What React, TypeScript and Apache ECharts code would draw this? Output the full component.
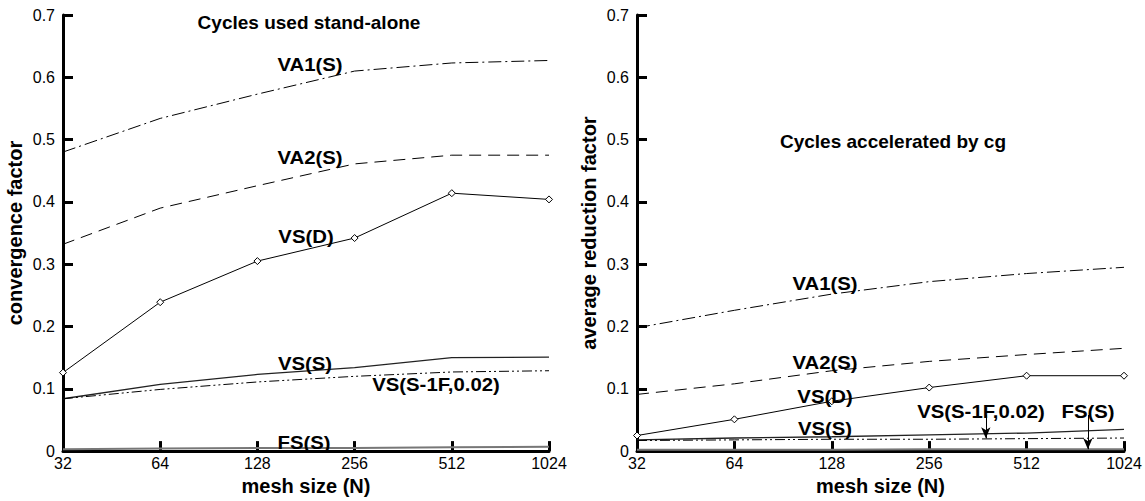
import React, { useEffect, useRef } from "react";
import * as echarts from "echarts";

// Mesh sizes along the horizontal axis (log2 scale)
const meshSizes = [32, 64, 128, 256, 512, 1024];
const yTicks = [0, 0.1, 0.2, 0.3, 0.4, 0.5, 0.6, 0.7];

// Left panel: convergence factor of cycles used stand-alone
const standaloneVA1 = [0.48, 0.534, 0.573, 0.61, 0.623, 0.627];
const standaloneVA2 = [0.332, 0.39, 0.426, 0.461, 0.475, 0.475];
const standaloneVSD = [0.126, 0.239, 0.305, 0.342, 0.414, 0.404];
const standaloneVSS = [0.084, 0.107, 0.123, 0.134, 0.15, 0.151];
const standaloneVS1F = [0.084, 0.099, 0.111, 0.12, 0.127, 0.129];
const standaloneFS = [0.003, 0.004, 0.005, 0.005, 0.006, 0.007];

// Right panel: average reduction factor of cycles accelerated by cg
const cgVA1 = [0.198, 0.226, 0.252, 0.272, 0.285, 0.295];
const cgVA2 = [0.091, 0.108, 0.129, 0.144, 0.155, 0.165];
const cgVSD = [0.025, 0.051, 0.08, 0.102, 0.121, 0.121];
const cgVSS = [0.018, 0.021, 0.023, 0.026, 0.029, 0.035];
const cgVS1F = [0.017, 0.018, 0.019, 0.019, 0.02, 0.021];
const cgFS = [0.002, 0.002, 0.002, 0.003, 0.003, 0.003];

// Arrows in the right panel pointing from a label down to its curve
const cgArrows = [
  { series: "VS(S-1F,0.02)", mesh: 383, from: 0.058, to: 0.0205 },
  { series: "FS(S)", mesh: 792, from: 0.058, to: 0.003 },
];

const FONT = "'Liberation Sans', Arial, Helvetica, sans-serif";
const AXIS_WIDTH = 3;
const TICK_LEN = 10;

type CurveLabel = { text: string; x: number; y: number };

const leftLabels: CurveLabel[] = [
  { text: "VA1(S)", x: 310, y: 65 },
  { text: "VA2(S)", x: 310, y: 158 },
  { text: "VS(D)", x: 306, y: 237 },
  { text: "VS(S)", x: 305, y: 364 },
  { text: "VS(S-1F,0.02)", x: 436, y: 385 },
  { text: "FS(S)", x: 304, y: 443 },
];

const rightLabels: CurveLabel[] = [
  { text: "VA1(S)", x: 825, y: 284 },
  { text: "VA2(S)", x: 825, y: 363 },
  { text: "VS(D)", x: 825, y: 397 },
  { text: "VS(S)", x: 825, y: 429 },
  { text: "VS(S-1F,0.02)", x: 981, y: 412 },
  { text: "FS(S)", x: 1088, y: 412 },
];

const panelTitles: CurveLabel[] = [
  { text: "Cycles used stand-alone", x: 309, y: 22 },
  { text: "Cycles accelerated by cg", x: 893, y: 141 },
];

const toPairs = (values: number[]) => meshSizes.map((n, i) => [n, values[i]]);

function line(name: string, values: number[], panel: number, dash: number[] | "solid", extra: Record<string, unknown> = {}) {
  return {
    type: "line",
    name,
    xAxisIndex: panel,
    yAxisIndex: panel,
    data: toPairs(values),
    symbol: "none",
    lineStyle: { color: "#000", width: 1, type: dash },
    ...extra,
  };
}

const diamonds = {
  symbol: "diamond",
  symbolSize: 7,
  showSymbol: true,
  itemStyle: { color: "#fff", borderColor: "#000", borderWidth: 1 },
};

function xAxis(panel: number) {
  return {
    type: "log",
    logBase: 2,
    gridIndex: panel,
    min: meshSizes[0],
    max: meshSizes[meshSizes.length - 1],
    name: "mesh size (N)",
    nameLocation: "middle",
    nameGap: 22,
    nameTextStyle: { fontFamily: FONT, fontSize: 20, fontWeight: "bold", color: "#000" },
    axisLine: { show: true, onZero: false, lineStyle: { color: "#000", width: AXIS_WIDTH } },
    axisTick: { show: true, inside: true, length: TICK_LEN, lineStyle: { color: "#000", width: AXIS_WIDTH } },
    minorTick: { show: false },
    axisLabel: {
      fontFamily: FONT,
      fontSize: 16,
      color: "#000",
      margin: 4,
      showMinLabel: true,
      showMaxLabel: true,
      formatter: (v: number) => String(Math.round(v)),
    },
    splitLine: { show: false },
  };
}

function yAxis(panel: number, name: string) {
  return {
    type: "value",
    gridIndex: panel,
    min: yTicks[0],
    max: yTicks[yTicks.length - 1],
    interval: 0.1,
    name,
    nameLocation: "middle",
    nameGap: 38,
    nameTextStyle: { fontFamily: FONT, fontSize: 20, fontWeight: "bold", color: "#000" },
    axisLine: { show: true, onZero: false, lineStyle: { color: "#000", width: AXIS_WIDTH } },
    axisTick: { show: true, inside: true, length: TICK_LEN, lineStyle: { color: "#000", width: AXIS_WIDTH } },
    axisLabel: {
      fontFamily: FONT,
      fontSize: 16,
      color: "#000",
      margin: 8,
      formatter: (v: number) => (Math.abs(v) < 1e-9 ? "0" : v.toFixed(1)),
    },
    splitLine: { show: false },
  };
}

function textEl(l: CurveLabel, size: number, stretch: number) {
  return {
    type: "text",
    x: l.x,
    y: l.y,
    scaleX: stretch,
    z: 10,
    style: {
      text: l.text,
      fill: "#000",
      font: `bold ${size}px ${FONT}`,
      align: "center",
      verticalAlign: "middle",
    },
  };
}

function arrowMarks(seriesName: string) {
  const list = cgArrows.filter((a) => a.series === seriesName);
  return {
    markLine: {
      silent: true,
      symbol: ["none", "arrow"],
      symbolSize: [7, 11],
      lineStyle: { color: "#000", width: 1, type: "solid" },
      label: { show: false },
      data: list.map((a) => [{ coord: [a.mesh, a.from] }, { coord: [a.mesh, a.to] }]),
    },
  };
}

export default function App() {
  const ref = useRef<HTMLDivElement>(null);

  useEffect(() => {
    if (!ref.current) return;
    const chart = echarts.init(ref.current, undefined, { renderer: "svg" });

    const series = [
      line("VA1(S)", standaloneVA1, 0, [13, 4, 2, 4]),
      line("VA2(S)", standaloneVA2, 0, [12, 7]),
      line("VS(D)", standaloneVSD, 0, "solid", diamonds),
      line("VS(S)", standaloneVSS, 0, "solid", { lineStyle: { color: "#222", width: 1.3 } }),
      line("VS(S-1F,0.02)", standaloneVS1F, 0, [10, 3, 2, 3, 2, 3]),
      line("FS(S)", standaloneFS, 0, "solid", { lineStyle: { color: "#777", width: 2 } }),
      line("VA1(S)", cgVA1, 1, [13, 4, 2, 4]),
      line("VA2(S)", cgVA2, 1, [12, 7]),
      line("VS(D)", cgVSD, 1, "solid", diamonds),
      line("VS(S)", cgVSS, 1, "solid", { lineStyle: { color: "#222", width: 1.3 } }),
      line("VS(S-1F,0.02)", cgVS1F, 1, [10, 3, 2, 3, 2, 3], arrowMarks("VS(S-1F,0.02)")),
      line("FS(S)", cgFS, 1, "solid", { lineStyle: { color: "#777", width: 2 }, ...arrowMarks("FS(S)") }),
    ];

    chart.setOption({
      animation: false,
      grid: [
        { left: 63, top: 15, width: 486, height: 442 },
        { left: 637, top: 15, width: 487, height: 443 },
      ],
      xAxis: [xAxis(0), xAxis(1)],
      yAxis: [yAxis(0, "convergence factor"), yAxis(1, "average reduction factor")],
      series,
      graphic: [
        ...panelTitles.map((t) => textEl(t, 19, 1)),
        ...leftLabels.map((l) => textEl(l, 18, 1.13)),
        ...rightLabels.map((l) => textEl(l, 18, 1.13)),
      ],
    } as any);

    return () => chart.dispose();
  }, []);

  // The chart sits at the page's top-left corner regardless of the body margin
  return <div ref={ref} style={{ position: "absolute", left: 0, top: 0, width: 1145, height: 501 }} />;
}
